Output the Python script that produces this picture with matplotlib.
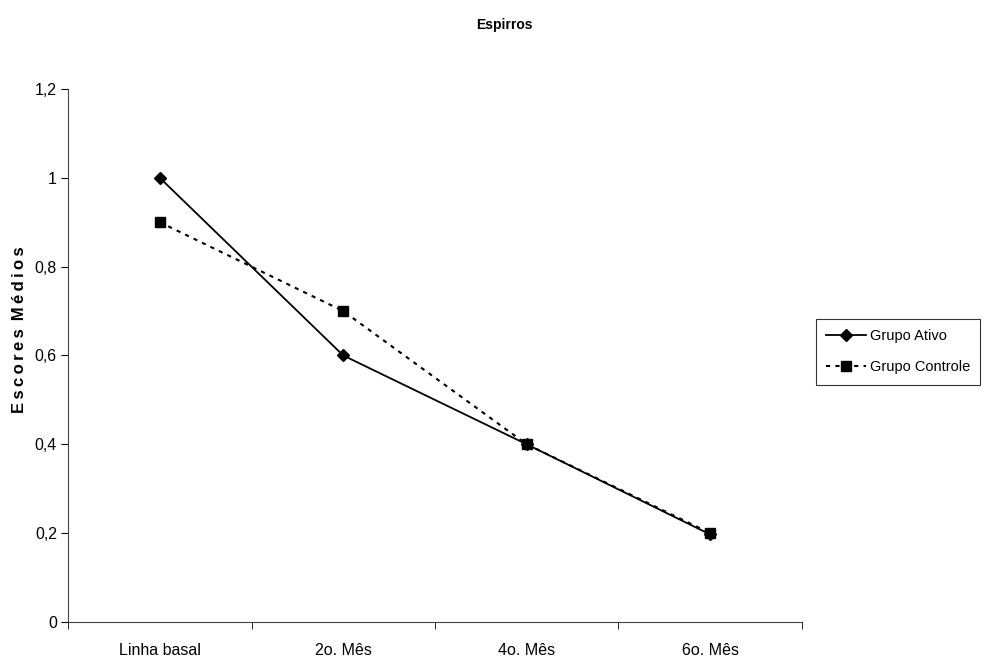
import numpy as np
import matplotlib.pyplot as plt
from matplotlib.ticker import FuncFormatter

plt.rcParams['font.family'] = ['Liberation Sans Narrow', 'Liberation Sans', 'DejaVu Sans']

categorias = ['Linha basal', '2o. Mês', '4o. Mês', '6o. Mês']
ativo = [1.0, 0.6, 0.4, 0.197]
controle = [0.9, 0.7, 0.4, 0.2]

fig = plt.figure(figsize=(9.89, 6.64), dpi=100)
ax = fig.add_axes([0.0688, 0.0633, 0.742, 0.8027])

x = np.arange(len(categorias))
ax.plot(x, ativo, color='black', lw=1.3, marker='D', ms=6.5, label='Grupo Ativo')
ax.plot(x, controle, color='black', lw=1.5, ls=(0, (2, 2.5)), marker='s', ms=6.5,
        label='Grupo Controle')

ax.set_xlim(-0.5, len(categorias) - 0.5)
ax.set_ylim(0, 1.2)
ax.set_yticks(np.arange(0, 1.21, 0.2))
ax.yaxis.set_major_formatter(FuncFormatter(lambda v, p: ('%g' % round(v, 1)).replace('.', ',')))
ax.set_xticks(x)
ax.set_xticklabels(categorias)
ax.set_xticks(np.arange(-0.5, len(categorias)), minor=True)
ax.tick_params(axis='x', which='major', length=0, pad=15, labelsize=11.5)
ax.tick_params(axis='x', which='minor', length=5, direction='out')
ax.tick_params(axis='y', length=5, labelsize=11.5, pad=3)

for s in ['top', 'right']:
    ax.spines[s].set_visible(False)
for s in ['left', 'bottom']:
    ax.spines[s].set_color('#444444')

rotulo = '\u2009'.join('Escores') + '\u2009 ' + '\u2009'.join('Médios')
ax.set_ylabel(rotulo, fontsize=12, fontweight='bold', va='center')
ax.yaxis.set_label_coords(-0.066, 0.548)
fig.text(0.51, 0.962, 'Espirros', ha='center', va='center', fontsize=10, fontweight='bold')

leg = fig.legend(loc='upper left', bbox_to_anchor=(0.825, 0.52), frameon=True, fancybox=False,
                 edgecolor='black', fontsize=10.5, handlelength=2.7, borderpad=0.7,
                 labelspacing=1.2, handletextpad=0.3, borderaxespad=0)
leg.get_frame().set_linewidth(0.8)

fig.savefig('out.png', dpi=100)
